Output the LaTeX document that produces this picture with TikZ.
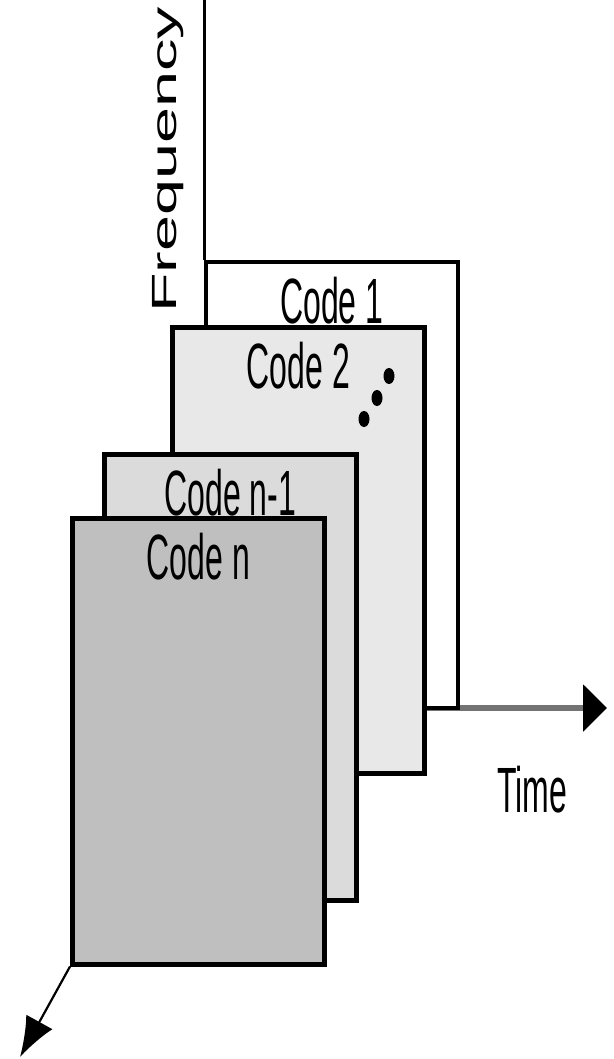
\documentclass[tikz,border=0pt]{standalone}
\usepackage{fontspec}
\setmainfont{Liberation Sans}
\usetikzlibrary{arrows.meta,positioning}

\tikzset{
  codebox/.style={draw=black, line width=4.5pt, anchor=north west, inner sep=0pt,
    minimum width=252pt, minimum height=446pt},
  codelabel/.style={font=\fontsize{64}{64}\selectfont, xscale=.5, anchor=base, inner sep=0pt},
  freqlabel/.style={font=\fontsize{35}{35}\selectfont, rotate=90, xscale=1.85, anchor=base, inner sep=0pt},
}

\begin{document}
\begin{tikzpicture}[x=1pt,y=1pt]
  \useasboundingbox (0,0) rectangle (613,-1059);

  % axes
  \coordinate (origin) at (204,-708);
  \coordinate (freqtop) at (204,0);
  \coordinate (timetip) at (607,-708);
  \draw[black!55, line width=6pt, -{Triangle[length=24pt,width=46pt,color=black]}] (origin) -- (timetip);

  % stack of codes, back to front
  \node[codebox, line width=3.5pt, fill=white] (code1) at (204,-260) {};
  \draw[line width=3pt] (code1.north west) -- (freqtop);
  \node[codebox, fill=black!9] (code2) at (170,-325) {};
  \node[codebox, fill=black!14] (coden1) at (102,-452) {};
  \node[codebox, fill=black!25] (coden) at (70,-516) {};

  \node[codelabel] (lab1) at ([yshift=-63pt]code1.north) {Code 1};
  \node[codelabel] (lab2) at ([yshift=-63pt]code2.north) {Code 2};
  \node[codelabel] (labn1) at ([yshift=-63pt]coden1.north) {Code n-1};
  \node[codelabel] (labn) at ([yshift=-63pt]coden.north) {Code n};

  % dots between code 2 and code n-1
  \fill (389,-376) ellipse (5.5 and 8);
  \fill (377,-398) ellipse (5.5 and 8);
  \fill (364,-419) ellipse (5.5 and 8);

  \node[freqlabel] (freq) at (176,-160) {Frequency};
  \node[codelabel] (time) at (532,-812) {Time};

  % depth axis
  \coordinate (depthtip) at (20,-1057);
  \draw[line width=2.2pt, -{Latex[length=40pt,width=30pt]}] (coden.south west) -- (depthtip);
\end{tikzpicture}
\end{document}
